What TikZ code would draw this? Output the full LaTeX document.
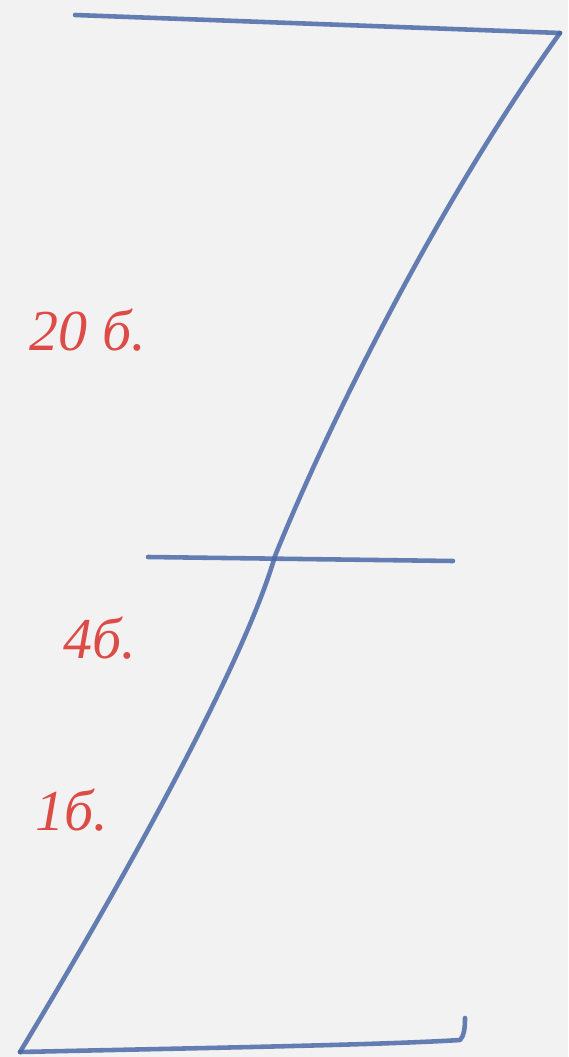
\documentclass[tikz,border=0pt]{standalone}
\usepackage{fontspec}
\newfontfamily\handfont{Liberation Serif}
\usetikzlibrary{positioning}
\definecolor{cPaper}{HTML}{F2F2F2}
\definecolor{cPen}{HTML}{4A68A6}
\definecolor{cMark}{HTML}{DC4B46}
\tikzset{
  pen/.style={draw=cPen, line width=2.6pt, line cap=round, line join=round, opacity=0.85},
  score/.style={text=cMark, font=\handfont\itshape\fontsize{33}{35}\selectfont, inner sep=0pt},
}

\begin{document}
\begin{tikzpicture}[x=0.02cm, y=-0.02cm]
  % ---- paper
  \fill[cPaper] (0,0) rectangle (568,1057);
  \useasboundingbox (0,0) rectangle (568,1057);

  % ---- corners of the figure
  \coordinate (tl) at (75,15);
  \coordinate (tr) at (560,33);
  \coordinate (mid) at (275,556);
  \coordinate (bl) at (20,1052);
  \coordinate (br) at (460,1040);
  \coordinate (hook) at (465,1018);
  \coordinate (barL) at (148,557);
  \coordinate (barR) at (453,561);

  % ---- strokes
  \draw[pen] (tl) -- (tr);
  \draw[pen] (tr) .. controls (440,200) and (330,420) .. (mid)
             .. controls (245,660) and (130,870) .. (bl);
  \draw[pen] (barL) -- (barR);
  \draw[pen] (bl) .. controls (200,1048) and (380,1045) .. (br)
             .. controls (464,1036) and (465,1028) .. (hook);

  % ---- scores
  \node[score] (s20) at (88,330) {20 б.};
  \node[score] (s4) at (100,638) {4б.};
  \node[score] (s1) at (72,810) {1б.};
\end{tikzpicture}
\end{document}
